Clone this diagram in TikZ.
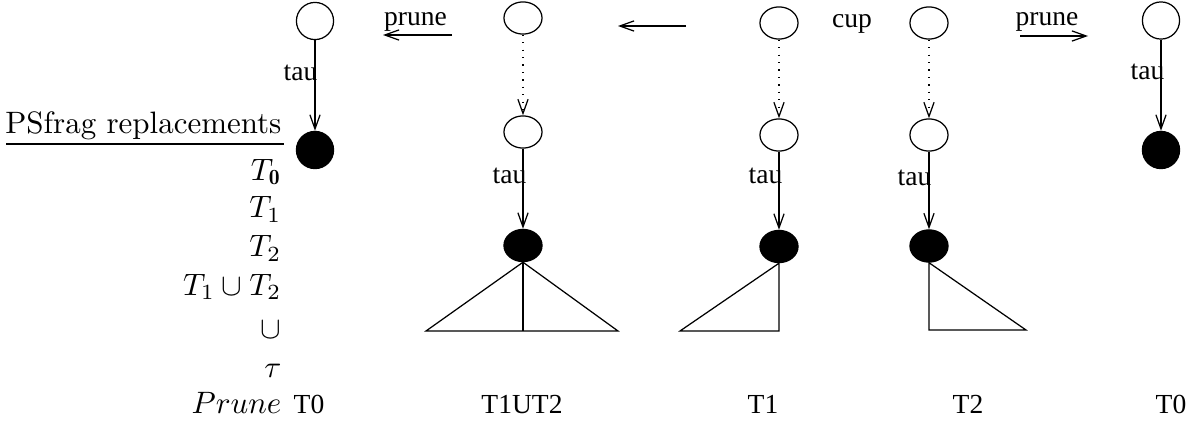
\documentclass[tikz,border=0pt]{standalone}
\usepackage{amsmath}
\usepackage{amssymb}
\usepackage{fontspec}
\newfontfamily\psfont{Liberation Serif}
\usetikzlibrary{arrows.meta,shapes.geometric}

\begin{document}
\begin{tikzpicture}[x=0.323pt,y=-0.323pt,line width=0.4pt,
    >={Straight Barb[length=4.6pt,width=3.3pt]},
    state/.style={draw,ellipse,inner sep=0pt,minimum width=12.3pt,minimum height=10.4pt},
    leaf/.style={state,fill=black},
    rootst/.style={draw,circle,inner sep=0pt,minimum size=12pt},
    rootleaf/.style={rootst,fill=black},
    lbl/.style={inner sep=0pt,font=\psfont\fontsize{8.9}{10}\selectfont},
    rep/.style={inner sep=0pt,anchor=base east}]
    \useasboundingbox (0,0) rectangle (1187,424);

    % psfrag table on the left
    \node[rep] (hdr) at (282,133) {PSfrag replacements};
    \draw (6,144) -- (284,144);
    \node[rep] at (282,180) {$T_{\mathbf{0}}$};
    \node[rep] at (282,218) {$T_1$};
    \node[rep] at (282,257) {$T_2$};
    \node[rep] at (282,295) {$T_1\cup T_2$};
    \node[rep] at (282,338) {$\cup$};
    \node[rep] at (282,377) {$\tau$};
    \node[rep] at (282,413) {$Prune$};

    % pruned tree, left
    \node[rootst] (p0top) at (315,21) {};
    \node[rootleaf] (p0leaf) at (315,150) {};
    \draw[->] (p0top) -- (p0leaf);
    \node[lbl,anchor=base east] at (318,80) {tau};
    \node[lbl,anchor=base] at (309,413) {T0};

    % prune arrow to the left
    \coordinate (pl1) at (452,35);
    \coordinate (pl2) at (383,35);
    \draw[->] (pl1) -- (pl2);
    \node[lbl,anchor=base] at (415.5,25) {prune};

    % union tree
    \node[state] (ctop) at (523,18) {};
    \node[state] (cmid) at (523,132) {};
    \node[leaf] (cleaf) at (523,245.5) {};
    \draw[->,dotted] (ctop) -- (cmid);
    \draw[->] (cmid) -- (cleaf);
    \node[lbl,anchor=base east] at (527,184) {tau};
    \coordinate (cbl) at (426,331);
    \coordinate (cbr) at (618,331);
    \draw (cbl) -- (cleaf.south) -- (cbr) -- cycle;
    \draw[line width=0.8pt] (cleaf.south) -- (cleaf.south |- cbl);
    \node[lbl,anchor=base] at (522,413) {T1UT2};

    \coordinate (ml1) at (686,26);
    \coordinate (ml2) at (618,26);
    \draw[->] (ml1) -- (ml2);

    % T1
    \node[state] (atop) at (779,23) {};
    \node[state] (amid) at (779,135) {};
    \node[leaf] (aleaf) at (779,246.5) {};
    \draw[->,dotted] (atop) -- (amid);
    \draw[->] (amid) -- (aleaf);
    \node[lbl,anchor=base east] at (783,184) {tau};
    \coordinate (abl) at (680,331);
    \draw (abl) -- (aleaf.south) -- (aleaf.south |- abl) -- cycle;
    \node[lbl,anchor=base] at (763,413) {T1};

    \node[lbl,anchor=base] at (852,28) {cup};

    % T2
    \node[state] (btop) at (929,23) {};
    \node[state] (bmid) at (929,135) {};
    \node[leaf] (bleaf) at (929,246) {};
    \draw[->,dotted] (btop) -- (bmid);
    \draw[->] (bmid) -- (bleaf);
    \node[lbl,anchor=base east] at (932,185) {tau};
    \coordinate (bbr) at (1026,330);
    \draw (bleaf.south) -- (bleaf.south |- bbr) -- (bbr) -- cycle;
    \node[lbl,anchor=base] at (968,413) {T2};

    % prune arrow to the right
    \coordinate (pr1) at (1020,36);
    \coordinate (pr2) at (1088,36);
    \draw[->] (pr1) -- (pr2);
    \node[lbl,anchor=base] at (1047,25) {prune};

    % pruned tree, right
    \node[rootst] (q0top) at (1161,20.5) {};
    \node[rootleaf] (q0leaf) at (1161,150) {};
    \draw[->] (q0top) -- (q0leaf);
    \node[lbl,anchor=base east] at (1165,79) {tau};
    \node[lbl,anchor=base] at (1171,413) {T0};
\end{tikzpicture}
\end{document}
